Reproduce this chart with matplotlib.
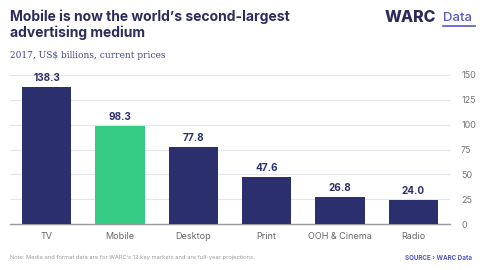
import matplotlib.pyplot as plt

# data
categories = ["TV", "Mobile", "Desktop", "Print", "OOH & Cinema", "Radio"]
values = [138.3, 98.3, 77.8, 47.6, 26.8, 24.0]
highlight = "Mobile"
y_ticks = [0, 25, 50, 75, 100, 125, 150]

navy = "#2b2f6e"
green = "#36cc85"
title_col = "#2a2c5a"
purple = "#5558c8"

fig = plt.figure(figsize=(4.8, 2.7), dpi=100)
ax = fig.add_axes([10 / 480, 46 / 270, 440 / 480, 149 / 270])

colors = [green if c == highlight else navy for c in categories]
x = range(len(categories))
ax.bar(x, values, width=0.67, color=colors, zorder=3)

for i, v in zip(x, values):
    ax.text(i, v + 4, f"{v:.1f}", ha="center", va="bottom", fontsize=7.2,
            fontweight="bold", color=navy, family="Inter")

ax.set_xlim(-0.5, len(categories) - 0.5)
ax.set_ylim(0, 150)
ax.set_yticks(y_ticks)
ax.yaxis.tick_right()
ax.tick_params(axis="y", length=0, pad=8, labelsize=6.5, labelcolor="#777777")
ax.tick_params(axis="x", length=0, pad=6, labelsize=6.5, labelcolor="#666666")
ax.set_xticks(list(x))
ax.set_xticklabels(categories)
for lab in ax.get_xticklabels() + ax.get_yticklabels():
    lab.set_family("Inter")
ax.grid(axis="y", color="#e4e4ea", linewidth=0.8, zorder=0)
for s in ["top", "right", "left"]:
    ax.spines[s].set_visible(False)
ax.spines["bottom"].set_color("#999999")
ax.spines["bottom"].set_linewidth(1.0)

# titles
fig.text(10 / 480, 1 - 17 / 270, "Mobile is now the world\u2019s second-largest",
         fontsize=10, fontweight="bold", color=title_col, family="Inter", va="center")
fig.text(10 / 480, 1 - 33 / 270, "advertising medium",
         fontsize=10, fontweight="bold", color=title_col, family="Inter", va="center")
fig.text(10 / 480, 1 - 56 / 270, "2017, US$ billions, current prices",
         fontsize=6.5, color="#4a4a8a", family="DejaVu Serif", va="center")

# logo
fig.text(385 / 480, 1 - 18 / 270, "WARC", fontsize=11.5, fontweight="heavy",
         color=title_col, family="Inter", va="center")
fig.text(443 / 480, 1 - 18 / 270, "Data", fontsize=9.5, color=purple,
         family="Inter", va="center", fontweight="medium")
fig.add_artist(plt.Line2D([443 / 480, 475 / 480], [1 - 26 / 270, 1 - 26 / 270],
                          color=purple, linewidth=1.2))

# footer
fig.text(10 / 480, 1 - 258 / 270,
         "Note: Media and format data are for WARC\u2019s 12 key markets and are full-year projections.",
         fontsize=4.1, color="#999999", family="Inter", va="center")
fig.text(472 / 480, 1 - 258 / 270, "SOURCE \u203a WARC Data", fontsize=4.5,
         fontweight="bold", color=purple, family="Inter", va="center", ha="right")

fig.savefig("out.png", dpi=100)
